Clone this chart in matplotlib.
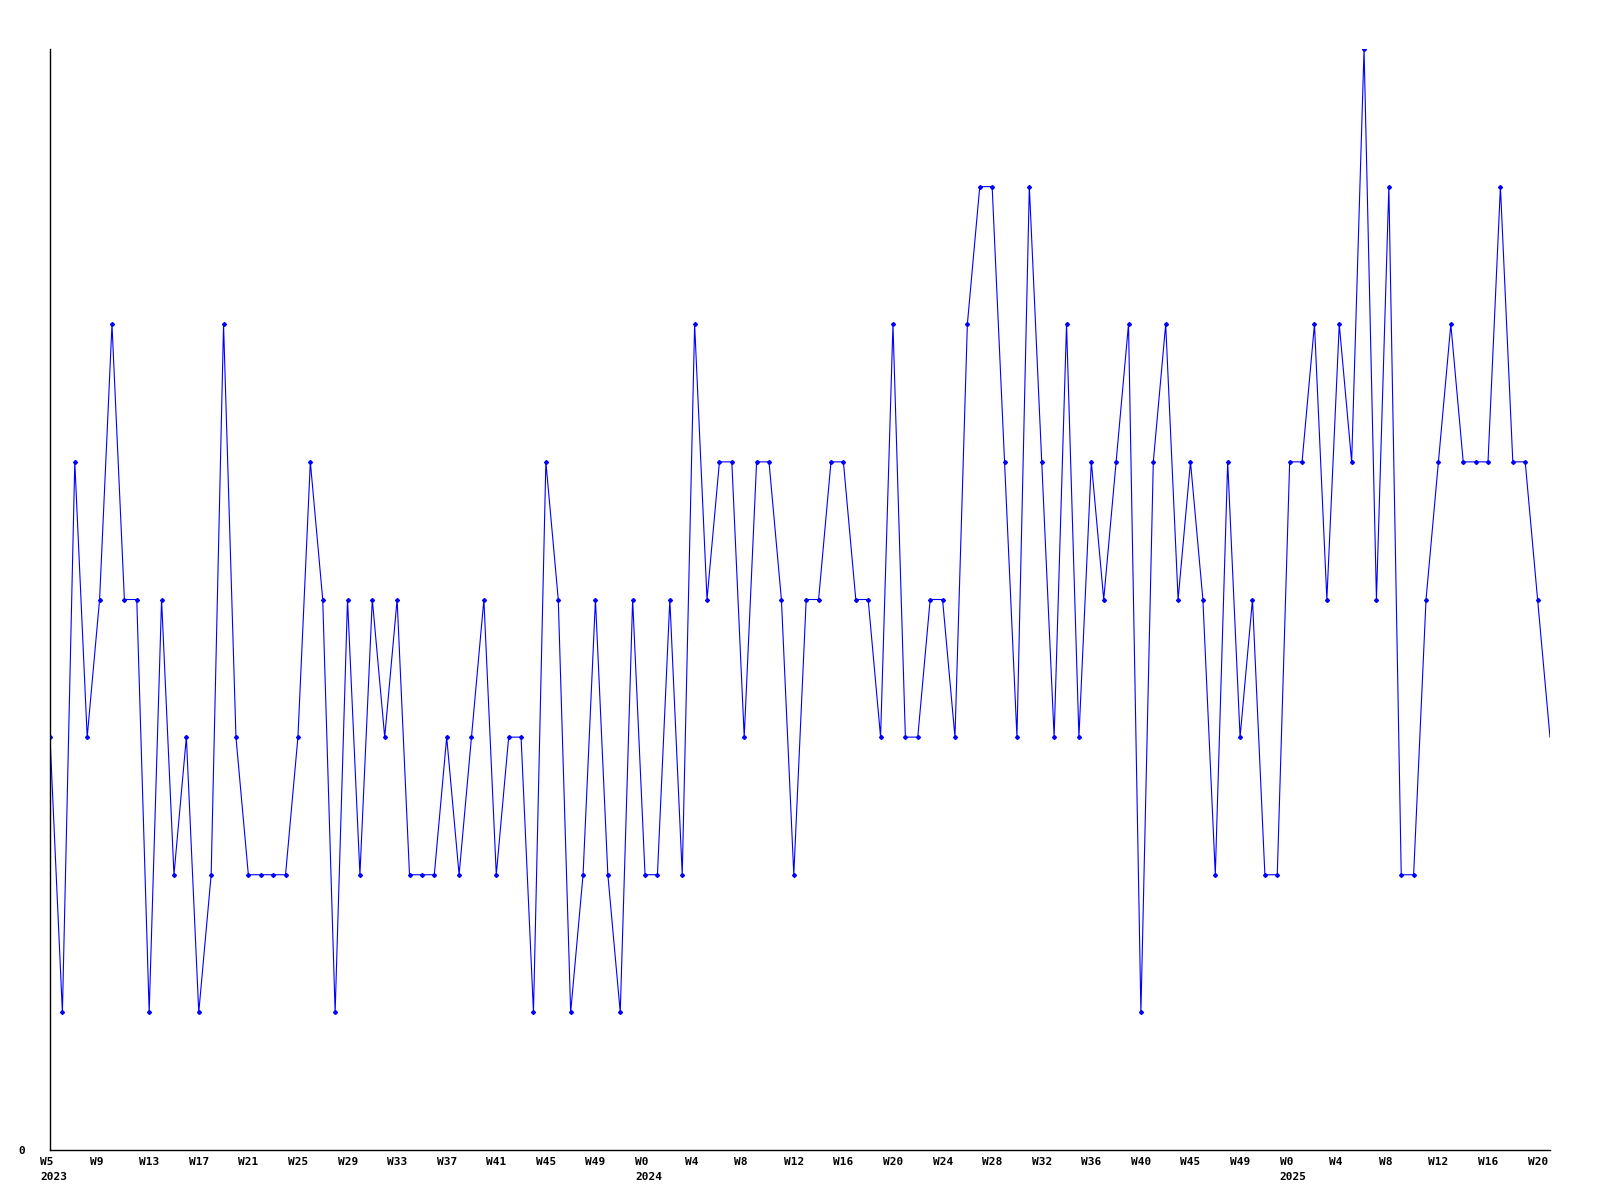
import matplotlib
matplotlib.use('Agg')
import matplotlib.pyplot as plt
import matplotlib.transforms as mtransforms

# weekly counts, W5 2023 .. W21 2025
counts = [3, 1, 5, 3, 4, 6, 4, 4, 1, 4, 2, 3, 1, 2, 6, 3, 2, 2, 2, 2,
          3, 5, 4, 1, 4, 2, 4, 3, 4, 2, 2, 2, 3, 2, 3, 4, 2, 3, 3, 1,
          5, 4, 1, 2, 4, 2, 1, 4, 2, 2, 4, 2, 6, 4, 5, 5, 3, 5, 5, 4,
          2, 4, 4, 5, 5, 4, 4, 3, 6, 3, 3, 4, 4, 3, 6, 7, 7, 5, 3, 7,
          5, 3, 6, 3, 5, 4, 5, 6, 1, 5, 6, 4, 5, 4, 2, 5, 3, 4, 2, 2,
          5, 5, 6, 4, 6, 5, 8, 4, 7, 2, 2, 4, 5, 6, 5, 5, 5, 7, 5, 5,
          4, 3]

week_labels = ['W5', 'W9', 'W13', 'W17', 'W21', 'W25', 'W29', 'W33', 'W37', 'W41',
               'W45', 'W49', 'W0', 'W4', 'W8', 'W12', 'W16', 'W20', 'W24', 'W28',
               'W32', 'W36', 'W40', 'W45', 'W49', 'W0', 'W4', 'W8', 'W12', 'W16',
               'W20']
years = ['2023', '2024', '2025']

font = dict(family='DejaVu Sans Mono', weight='bold', size=8)

fig = plt.figure(figsize=(16, 12), dpi=100)
ax = fig.add_axes([50 / 1600, 50 / 1200, 1500 / 1600, 1101 / 1200])

x = list(range(len(counts)))
ax.plot(x, counts, color='#0000ff', lw=0.8, marker='D', markersize=2.0,
        markevery=list(range(len(counts) - 1)))

ax.set_xlim(0, len(counts) - 1)
ax.set_ylim(0, max(counts))

for s in ['top', 'right']:
    ax.spines[s].set_visible(False)
for s in ['left', 'bottom']:
    ax.spines[s].set_color('black')
    ax.spines[s].set_linewidth(1)

ax.set_yticks([0])
ax.set_yticklabels(['0'], fontdict=font)
ax.tick_params(axis='y', length=0, pad=18)

ticks = list(range(0, len(counts), 4))
ax.set_xticks(ticks)
ax.set_xticklabels(week_labels, fontdict=font, ha='left')
ax.tick_params(axis='x', length=0, pad=5)
shift = mtransforms.ScaledTranslation(-10 / 100, 0, fig.dpi_scale_trans)
for lab in ax.get_xticklabels():
    lab.set_transform(lab.get_transform() + shift)

# year labels under the first week of each year
year_ticks = [ticks[0]] + [t for t, w in zip(ticks, week_labels) if w == 'W0']
for t, yr in zip(year_ticks, years):
    ax.annotate(yr, xy=(t, 0), xycoords=('data', 'axes fraction'),
                xytext=(-7.2, -16), textcoords='offset points',
                ha='left', va='top', **font)

fig.savefig('out.png', dpi=100)
